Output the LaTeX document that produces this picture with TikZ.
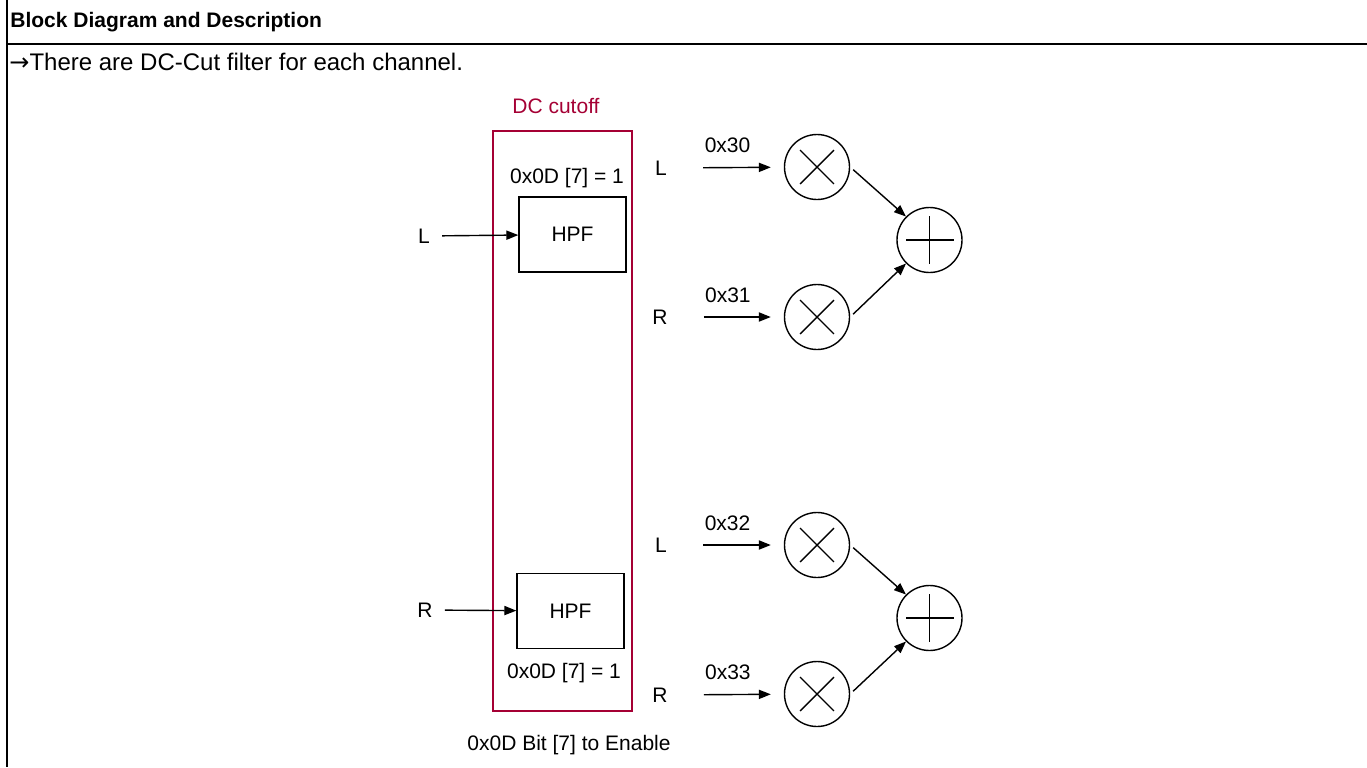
\documentclass[tikz,border=0pt]{standalone}
\usepackage{fontspec}
\setmainfont{Liberation Sans}
\newfontfamily\symfont{DejaVu Sans}
\usetikzlibrary{positioning,arrows.meta,calc}
\definecolor{dcred}{RGB}{165,0,52}
\definecolor{ink}{RGB}{0,0,0}
\tikzset{
  frame/.style={draw=ink, line width=1pt},
  head/.style={anchor=west, inner sep=0pt, text=ink, font=\fontsize{10.5}{12}\selectfont},
  lbl/.style={inner sep=2pt, text=ink, font=\fontsize{10.5}{12}\selectfont},
  dcbox/.style={draw=dcred, line width=0.75pt, minimum width=69.5pt, minimum height=290pt, inner sep=0pt},
  hpf/.style={draw=ink, line width=0.7pt, minimum width=53.5pt, minimum height=37.5pt,
              inner sep=0pt, font=\fontsize{10.5}{12}\selectfont},
  mult/.style={circle, draw=ink, line width=0.7pt, minimum size=32.5pt, inner sep=0pt,
              path picture={
                \draw[line width=0.7pt] ($(path picture bounding box.center)+(45:12pt)$) -- ($(path picture bounding box.center)+(225:12pt)$);
                \draw[line width=0.7pt] ($(path picture bounding box.center)+(135:12pt)$) -- ($(path picture bounding box.center)+(315:12pt)$);}},
  summ/.style={circle, draw=ink, line width=0.7pt, minimum size=32.5pt, inner sep=0pt,
              path picture={
                \draw[line width=0.7pt] ($(path picture bounding box.center)+(0:12pt)$) -- ($(path picture bounding box.center)+(180:12pt)$);
                \draw[line width=0.7pt] ($(path picture bounding box.center)+(90:12pt)$) -- ($(path picture bounding box.center)+(270:12pt)$);}},
  arr/.style={-{Triangle[length=6pt,width=4.6pt]}, line width=0.7pt, draw=ink},
}

\begin{document}
\begin{tikzpicture}[x=0.5pt, y=-0.5pt]
  \useasboundingbox (0,0) rectangle (1367,767);

  % table frame
  \draw[frame] (7,0) -- (7,767);
  \draw[frame] (7,44) -- (1367,44);
  \node[head] (title) at (10,22) {\bfseries Block Diagram and Description};
  \node[head, font=\fontsize{12}{14}\selectfont] (note) at (9,62) {{\symfont →}There are DC-Cut filter for each channel.};

  % DC cutoff block
  \node[dcbox] (dc) at (562.5,421) {};
  \node[lbl, text=dcred] (dctitle) at (556,106) {DC cutoff};
  \node[hpf] (hpfL) at (572.5,234.5) {HPF};
  \node[hpf] (hpfR) at (570.5,611) {HPF};
  \node[lbl] (cfgL) at (567,178) {0x0D [7] = 1};
  \node[lbl] (cfgR) at (564,673) {0x0D [7] = 1};
  \node[lbl] (enable) at (569,745) {0x0D Bit [7] to Enable};

  \node[lbl] (inL) at (424,236) {L};
  \node[lbl] (inR) at (425,610) {R};
  \draw[arr, shorten <=4pt] (inL) -- (hpfL);
  \draw[arr, shorten <=4pt] (inR) -- (hpfR);

  % mixers
  \node[lbl] (oL1) at (661,168) {L};
  \node[lbl] (oR1) at (660,317) {R};
  \node[lbl] (oL2) at (661,545) {L};
  \node[lbl] (oR2) at (660,695) {R};
  \node[mult] (m1) at (817,167) {};
  \node[mult] (m2) at (817,317) {};
  \node[mult] (m3) at (817,545) {};
  \node[mult] (m4) at (817,694) {};
  \node[summ] (s1) at (929.5,240) {};
  \node[summ] (s2) at (929.5,618) {};

  \draw[arr, shorten <=16pt, shorten >=6.5pt] (oL1) -- node[lbl, above=5pt] {0x30} (m1);
  \draw[arr, shorten <=16pt, shorten >=6.5pt] (oR1) -- node[lbl, above=5pt] {0x31} (m2);
  \draw[arr, shorten <=16pt, shorten >=6.5pt] (oL2) -- node[lbl, above=5pt] {0x32} (m3);
  \draw[arr, shorten <=16pt, shorten >=6.5pt] (oR2) -- node[lbl, above=5pt] {0x33} (m4);

  \draw[arr, shorten <=2pt] (m1.east) -- (s1.135);
  \draw[arr, shorten <=2pt] (m2.east) -- (s1.225);
  \draw[arr, shorten <=2pt] (m3.east) -- (s2.135);
  \draw[arr, shorten <=2pt] (m4.east) -- (s2.225);
\end{tikzpicture}
\end{document}
